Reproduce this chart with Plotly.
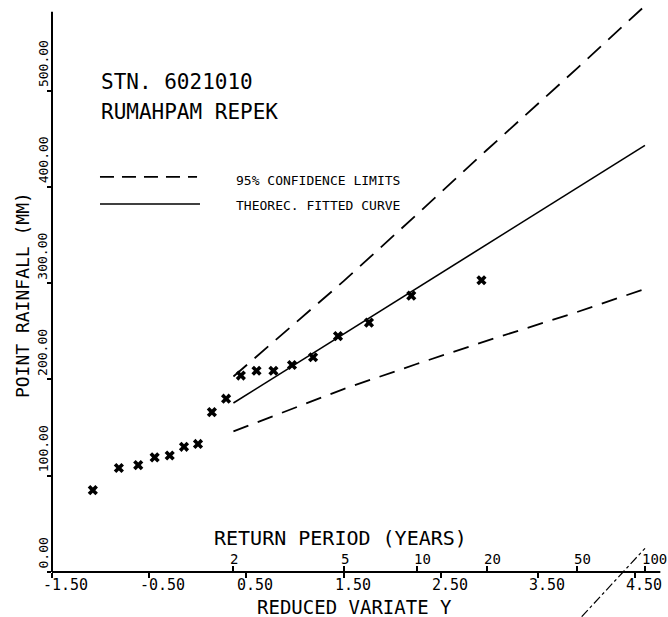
import numpy as np
import plotly.graph_objects as go

# ---- data ----
obs_variate = [-1.080, -0.812, -0.613, -0.444, -0.289, -0.142, 0.002, 0.145, 0.291,
               0.443, 0.604, 0.778, 0.969, 1.186, 1.442, 1.761, 2.196, 2.918]
obs_rain = [85, 108, 111, 119, 121, 130, 133, 166, 180,
            204, 209, 209, 215, 223, 245, 259, 287, 303]

return_periods = [2, 5, 10, 20, 50, 100]
return_labels = ["2", "5", "10", "20", "50", "100"]
fit_rain = [175.5, 247.1, 294.5, 340.0, 398.9, 443.0]
upper_rain = [203, 302, 371, 438, 523, 588]
lower_rain = [146, 190, 216, 240, 270, 294]

x_tick_vals = [-1.5, -0.5, 0.5, 1.5, 2.5, 3.5, 4.5]
x_tick_text = ["-1.50", "-0.50", "0.50", "1.50", "2.50", "3.50", "4.50"]
y_tick_vals = [0, 100, 200, 300, 400, 500]
y_tick_text = ["0.00", "100.00", "200.00", "300.00", "400.00", "500.00"]

# Gumbel reduced variate for each return period
rp_variate = [-np.log(-np.log(1 - 1 / t)) for t in return_periods]

X_RANGE = [-1.5, 4.796]
Y_RANGE = [0, 593]
FONT = "DejaVu Sans Mono"
INK = "black"

fig = go.Figure()
fig.add_trace(go.Scatter(x=rp_variate, y=upper_rain, mode="lines",
                         line=dict(color=INK, width=1.8, dash="18px,10px"), hoverinfo="skip"))
fig.add_trace(go.Scatter(x=rp_variate, y=fit_rain, mode="lines",
                         line=dict(color=INK, width=1.6), hoverinfo="skip"))
fig.add_trace(go.Scatter(x=rp_variate, y=lower_rain, mode="lines",
                         line=dict(color=INK, width=1.8, dash="16px,10px"), hoverinfo="skip"))
fig.add_trace(go.Scatter(x=obs_variate, y=obs_rain, mode="markers",
                         marker=dict(symbol="x", size=9, color=INK, line=dict(width=0))))
# overlay axis carrying the return-period ticks
fig.add_trace(go.Scatter(x=[None], y=[None], xaxis="x2", showlegend=False))

annotations = []
for v, t in zip(x_tick_vals, x_tick_text):
    annotations.append(dict(x=v, xref="x", y=0, yref="paper", text=t, showarrow=False,
                            xanchor="left", yanchor="top", xshift=-10, yshift=-3, borderpad=0,
                            font=dict(family=FONT, size=15, color=INK)))
for v, t in zip(y_tick_vals, y_tick_text):
    annotations.append(dict(x=0, xref="paper", y=v, yref="y", text=t, showarrow=False,
                            textangle=-90, xanchor="center", yanchor="bottom",
                            xshift=-9, yshift=2, borderpad=0,
                            font=dict(family=FONT, size=13, color=INK)))
for v, t in zip(rp_variate, return_labels):
    annotations.append(dict(x=v, xref="x", y=0, yref="paper", text=t, showarrow=False,
                            xanchor="left", yanchor="bottom", xshift=-4, yshift=4, borderpad=0,
                            font=dict(family=FONT, size=14, color=INK)))

def txt(text, x, y, size, xanchor="left", angle=0):
    annotations.append(dict(x=x, y=y, xref="paper", yref="paper", text=text, showarrow=False,
                            xanchor=xanchor, yanchor="middle", textangle=angle, borderpad=0,
                            font=dict(family=FONT, size=size, color=INK)))

txt("RETURN PERIOD (YEARS)", 0.472, 0.0595, 20, "center")
txt("REDUCED VARIATE Y", 0.4935, -0.0613, 19, "center")
txt("POINT RAINFALL (MM)", -0.049, 0.485, 18, "center", -90)
txt("STN. 6021010", 0.0784, 0.858, 21)
txt("RUMAHPAM REPEK", 0.0784, 0.806, 21)
txt("95% CONFIDENCE LIMITS", 0.299, 0.6865, 13)
txt("THEOREC. FITTED CURVE", 0.299, 0.641, 13)

shapes = [
    # axis lines
    dict(type="line", xref="paper", yref="paper", x0=0, x1=0.994, y0=0, y1=0,
         line=dict(color=INK, width=2)),
    dict(type="line", xref="paper", yref="paper", x0=0, x1=0, y0=0, y1=0.981,
         line=dict(color=INK, width=2)),
    # legend samples
    dict(type="line", xref="paper", yref="paper", x0=0.0784, x1=0.237, y0=0.692, y1=0.692,
         line=dict(color=INK, width=1.8, dash="14px,8px")),
    dict(type="line", xref="paper", yref="paper", x0=0.0784, x1=0.2418, y0=0.6445, y1=0.6445,
         line=dict(color=INK, width=1.6)),
    # stray stroke at lower right of the original sheet
    dict(type="line", xref="paper", yref="paper", x0=0.8655, x1=0.969, y0=-0.0783, y1=0.0415,
         line=dict(color=INK, width=1.2, dash="dashdot")),
]

fig.update_layout(
    width=668, height=617,
    margin=dict(l=52, r=4, t=1, b=45),
    paper_bgcolor="white", plot_bgcolor="white",
    showlegend=False,
    xaxis=dict(range=X_RANGE, showgrid=False, zeroline=False, showline=False,
               tickvals=x_tick_vals, ticks="outside", ticklen=5, tickwidth=1.5,
               tickcolor=INK, showticklabels=False),
    xaxis2=dict(range=X_RANGE, overlaying="x", anchor="y", side="bottom",
                showgrid=False, zeroline=False, showline=False,
                tickvals=rp_variate, ticks="inside", ticklen=6, tickwidth=1.5,
                tickcolor=INK, showticklabels=False),
    yaxis=dict(range=Y_RANGE, showgrid=False, zeroline=False, showline=False,
               tickvals=y_tick_vals, ticks="outside", ticklen=4, tickwidth=1.5,
               tickcolor=INK, showticklabels=False),
    annotations=annotations,
    shapes=shapes,
)

fig.write_html("out.html")
